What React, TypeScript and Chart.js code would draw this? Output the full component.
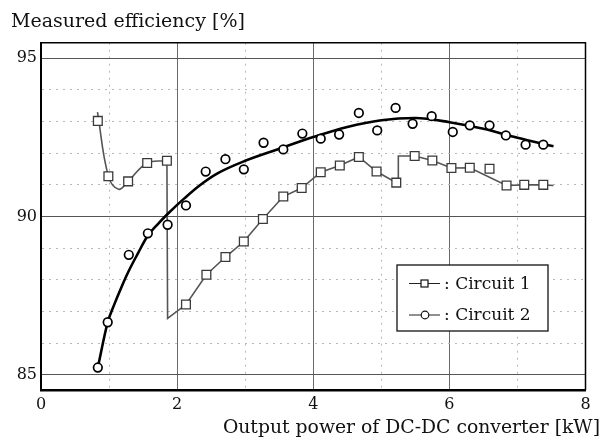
import React, { useEffect, useRef } from 'react';
import { Chart, registerables } from 'chart.js';

Chart.register(...registerables);

// ---- Data ----
const seriesNames = ['Circuit 1', 'Circuit 2'];

// Circuit 1 measured points (squares)
const c1X = [0.835, 0.99, 1.28, 1.56, 1.85, 2.13, 2.43, 2.71, 2.98, 3.26, 3.56, 3.83, 4.11, 4.39, 4.67, 4.93, 5.22, 5.49, 5.75, 6.03, 6.30, 6.59, 6.84, 7.10, 7.38];
const c1Y = [93.02, 91.27, 91.11, 91.69, 91.76, 87.22, 88.16, 88.72, 89.21, 89.92, 90.63, 90.90, 91.40, 91.61, 91.88, 91.42, 91.07, 91.91, 91.77, 91.53, 91.54, 91.51, 90.98, 91.00, 91.00];

// Circuit 1 drawn line: smooth start part, then the broken-line part
const c1CurveX = [0.83, 0.99, 1.14, 1.28, 1.56, 1.85];
const c1CurveY = [93.3, 91.27, 90.86, 91.11, 91.69, 91.76];
const c1PathX = [1.85, 1.86, 2.13, 2.43, 2.71, 2.98, 3.26, 3.56, 3.83, 4.11, 4.39, 4.67, 4.93, 5.22, 5.25, 5.25, 5.49, 5.75, 6.03, 6.30, 6.84, 7.10, 7.38, 7.53];
const c1PathY = [91.76, 86.78, 87.22, 88.16, 88.72, 89.21, 89.92, 90.63, 90.90, 91.40, 91.61, 91.88, 91.42, 91.07, 91.07, 91.91, 91.91, 91.77, 91.53, 91.54, 90.98, 91.00, 91.00, 90.98];

// Circuit 2 measured points (circles)
const c2X = [0.835, 0.98, 1.29, 1.57, 1.86, 2.13, 2.42, 2.71, 2.98, 3.27, 3.56, 3.84, 4.11, 4.38, 4.67, 4.94, 5.21, 5.46, 5.74, 6.05, 6.30, 6.59, 6.83, 7.12, 7.38];
const c2Y = [85.23, 86.66, 88.79, 89.47, 89.74, 90.35, 91.42, 91.81, 91.49, 92.33, 92.12, 92.62, 92.46, 92.59, 93.27, 92.72, 93.43, 92.93, 93.17, 92.67, 92.88, 92.88, 92.56, 92.27, 92.27];

// Circuit 2 fitted curve
const c2FitX = [0.835, 0.98, 1.08, 1.18, 1.28, 1.42, 1.57, 1.72, 1.86, 2.11, 2.33, 2.6, 3.0, 3.5, 4.0, 4.5, 5.0, 5.5, 6.0, 6.5, 7.0, 7.53];
const c2FitY = [85.23, 86.66, 87.24, 87.76, 88.24, 88.82, 89.40, 89.77, 90.08, 90.58, 90.98, 91.37, 91.76, 92.14, 92.51, 92.83, 93.04, 93.11, 92.98, 92.77, 92.49, 92.22];

// Axes
const xMin = 0;
const xMax = 8;
const xLabelStep = 2;
const yMin = 84.52;
const yMax = 95.49;
const yLabelStep = 5;
const yTitle = 'Measured efficiency [%]';
const xTitle = 'Output power of DC-DC converter [kW]';

const zip = (xs: number[], ys: number[]) => xs.map((x, i) => ({ x, y: ys[i] }));

const FONT = '"DejaVu Serif", serif';

const framePlugin = {
  id: 'frame',
  afterDatasetsDraw(chart: any) {
    const { ctx, chartArea: a } = chart;
    ctx.save();
    ctx.strokeStyle = '#000';
    ctx.lineWidth = 1.5;
    ctx.beginPath();
    ctx.moveTo(a.left, a.top);
    ctx.lineTo(a.right, a.top);
    ctx.lineTo(a.right, a.bottom);
    ctx.stroke();
    ctx.restore();
  },
};

const legendPlugin = {
  id: 'boxLegend',
  afterDraw(chart: any) {
    const { ctx, chartArea: a } = chart;
    const left = a.right - 188.5;
    const top = a.bottom - 125;
    const w = 151;
    const h = 66;
    ctx.save();
    ctx.fillStyle = '#fff';
    ctx.fillRect(left, top, w, h);
    ctx.strokeStyle = '#111';
    ctx.lineWidth = 1.3;
    ctx.strokeRect(left, top, w, h);
    const entries = chart.data.datasets.filter((d: any) => d.legendEntry);
    entries.forEach((d: any, i: number) => {
      const cy = top + 18.5 + i * 31.5;
      ctx.strokeStyle = '#222';
      ctx.lineWidth = 1;
      ctx.beginPath();
      ctx.moveTo(left + 12, cy);
      ctx.lineTo(left + 43, cy);
      ctx.stroke();
      ctx.fillStyle = '#fff';
      ctx.strokeStyle = '#111';
      ctx.lineWidth = 1.2;
      if (d.pointStyle === 'rect') {
        ctx.fillRect(left + 24, cy - 3.5, 7, 7);
        ctx.strokeRect(left + 24, cy - 3.5, 7, 7);
      } else {
        ctx.beginPath();
        ctx.arc(left + 28, cy, 3.8, 0, Math.PI * 2);
        ctx.fill();
        ctx.stroke();
      }
      ctx.fillStyle = '#111';
      ctx.font = '17px ' + FONT;
      ctx.textBaseline = 'middle';
      ctx.textAlign = 'left';
      ctx.fillText(': ' + d.label, left + 47, cy + 1);
    });
    ctx.restore();
  },
};

export default function App() {
  const ref = useRef<HTMLCanvasElement | null>(null);

  useEffect(() => {
    document.body.style.margin = '0';
    const canvas = ref.current;
    if (!canvas) return;
    const chart = new Chart(canvas, {
      type: 'scatter',
      data: {
        datasets: [
          {
            label: seriesNames[0] + ' curve',
            data: zip(c1CurveX, c1CurveY),
            showLine: true,
            tension: 0.4,
            borderColor: '#555',
            borderWidth: 1.6,
            pointRadius: 0,
            order: 5,
          } as any,
          {
            label: seriesNames[0] + ' line',
            data: zip(c1PathX, c1PathY),
            showLine: true,
            tension: 0,
            borderColor: '#555',
            borderWidth: 1.6,
            pointRadius: 0,
            order: 5,
          },
          {
            label: seriesNames[1] + ' fit',
            data: zip(c2FitX, c2FitY),
            showLine: true,
            cubicInterpolationMode: 'monotone',
            borderColor: '#000',
            borderWidth: 2.6,
            pointRadius: 0,
            order: 4,
          },
          {
            label: seriesNames[0],
            legendEntry: true,
            data: zip(c1X, c1Y),
            showLine: false,
            pointStyle: 'rect',
            pointRadius: 6.2,
            pointBorderWidth: 1.3,
            pointBorderColor: '#3a3a3a',
            pointBackgroundColor: '#fff',
            order: 2,
          } as any,
          {
            label: seriesNames[1],
            legendEntry: true,
            data: zip(c2X, c2Y),
            showLine: false,
            pointStyle: 'circle',
            pointRadius: 4.3,
            pointBorderWidth: 1.7,
            pointBorderColor: '#000',
            pointBackgroundColor: '#fff',
            order: 1,
          } as any,
        ],
      },
      options: {
        animation: false,
        responsive: true,
        maintainAspectRatio: false,
        layout: { padding: { left: 0, right: 17.5, top: 42.7, bottom: 0 } },
        plugins: {
          legend: { display: false },
          tooltip: { enabled: false },
          title: { display: false },
        },
        scales: {
          x: {
            type: 'linear',
            min: xMin,
            max: xMax,
            afterFit: (s: any) => {
              s.height = 51;
            },
            ticks: {
              stepSize: 1,
              includeBounds: false,
              padding: 5,
              color: '#111',
              font: { family: FONT, size: 16 },
              maxRotation: 0,
              autoSkip: false,
              callback: (v: any) => (Number(v) % xLabelStep === 0 ? String(v) : ''),
            },
            grid: {
              drawTicks: false,
              color: (c: any) => (c.tick && c.tick.value % xLabelStep === 0 ? '#6a6a6a' : '#b8b8b8'),
              lineWidth: 1,
            },
            border: {
              display: true,
              color: '#000',
              width: 2.5,
              dash: (c: any) => (c.tick && c.tick.value % xLabelStep !== 0 ? [2, 5] : []),
            },
          } as any,
          y: {
            type: 'linear',
            min: yMin,
            max: yMax,
            afterFit: (s: any) => {
              s.width = 41;
            },
            ticks: {
              stepSize: 1,
              includeBounds: false,
              padding: 4,
              color: '#111',
              font: { family: FONT, size: 16 },
              autoSkip: false,
              callback: (v: any) => (Math.abs(Number(v) % yLabelStep) < 1e-6 ? String(v) : ''),
            },
            grid: {
              drawTicks: false,
              color: (c: any) => (c.tick && Math.abs(c.tick.value % yLabelStep) < 1e-6 ? '#555' : '#b8b8b8'),
              lineWidth: 1,
            },
            border: {
              display: true,
              color: '#000',
              width: 2,
              dash: (c: any) => (c.tick && Math.abs(c.tick.value % yLabelStep) > 1e-6 ? [2, 5] : []),
            },
          } as any,
        },
      },
      plugins: [framePlugin, legendPlugin],
    });
    return () => chart.destroy();
  }, []);

  return (
    <div style={{ position: 'absolute', left: 0, top: 0, width: 603, height: 441, background: '#fff' }}>
      <canvas ref={ref} />
      <div
        style={{
          position: 'absolute',
          left: 11,
          top: 11,
          fontFamily: FONT,
          fontSize: 19,
          lineHeight: '19px',
          color: '#111',
          whiteSpace: 'nowrap',
        }}
      >
        {yTitle}
      </div>
      <div
        style={{
          position: 'absolute',
          right: 3,
          top: 417,
          fontFamily: FONT,
          fontSize: 18.8,
          lineHeight: '19px',
          color: '#111',
          whiteSpace: 'nowrap',
        }}
      >
        {xTitle}
      </div>
    </div>
  );
}
